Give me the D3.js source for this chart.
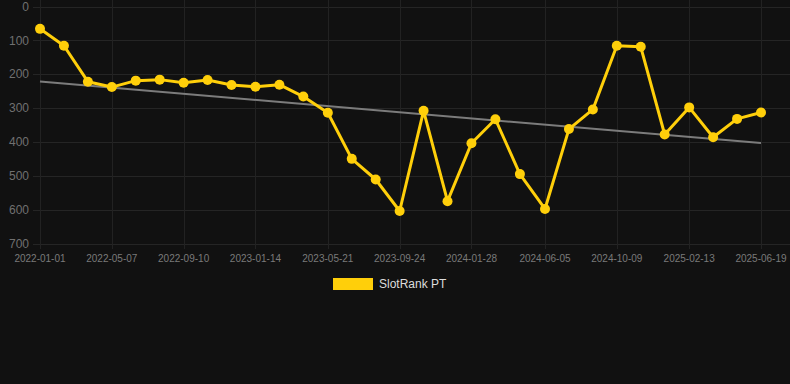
<!DOCTYPE html>
<html>
<head>
<meta charset="utf-8">
<script src="https://cdn.jsdelivr.net/npm/d3@7"></script>
<style>
  html, body { margin: 0; padding: 0; background: #111111; }
  svg { display: block; font-family: "Liberation Sans", Arial, sans-serif; }
</style>
</head>
<body>
<div id="chart"></div>
<script>
// dates of each sample
const dates = [
  "2022-01-01", "2022-02-12", "2022-03-26", "2022-05-07", "2022-06-18", "2022-07-30",
  "2022-09-10", "2022-10-22", "2022-12-03", "2023-01-14", "2023-02-25", "2023-04-08",
  "2023-05-21", "2023-07-02", "2023-08-13", "2023-09-24", "2023-11-05", "2023-12-17",
  "2024-01-28", "2024-03-10", "2024-04-22", "2024-06-05", "2024-07-17", "2024-08-28",
  "2024-10-09", "2024-11-20", "2025-01-01", "2025-02-13", "2025-03-27", "2025-05-08",
  "2025-06-19"
];
// rank values (lower = better)
const ranks = [
  66, 116, 222, 238, 219, 216, 225, 217, 232, 237, 231, 266,
  314, 450, 511, 604, 308, 575, 404, 333, 495, 598, 362, 304,
  116, 119, 378, 298, 386, 332, 313
];
const xTickLabels = [
  "2022-01-01", "2022-05-07", "2022-09-10", "2023-01-14", "2023-05-21", "2023-09-24",
  "2024-01-28", "2024-06-05", "2024-10-09", "2025-02-13", "2025-06-19"
];
const yTicks = [0, 100, 200, 300, 400, 500, 600, 700];
const seriesName = "SlotRank PT";

const W = 790, H = 384;
const parse = d3.timeParse("%Y-%m-%d");
const data = dates.map((d, i) => ({ date: parse(d), value: ranks[i] }));

const svg = d3.select("#chart").append("svg")
    .attr("width", W)
    .attr("height", H);

const x = d3.scaleTime()
    .domain([parse(xTickLabels[0]), parse(xTickLabels[xTickLabels.length - 1])])
    .range([40, 761]);

const y = d3.scaleLinear()
    .domain([0, 700])
    .range([6.5, 243.5]);

// grid
svg.append("g")
  .selectAll("line")
  .data(yTicks)
  .join("line")
    .attr("x1", 33).attr("x2", W)
    .attr("y1", d => Math.round(y(d)) + 0.5).attr("y2", d => Math.round(y(d)) + 0.5)
    .attr("stroke", "#252525").attr("stroke-width", 1);

svg.append("g")
  .selectAll("line")
  .data(xTickLabels.map(parse))
  .join("line")
    .attr("x1", d => Math.round(x(d)) + 0.5).attr("x2", d => Math.round(x(d)) + 0.5)
    .attr("y1", 0).attr("y2", 249)
    .attr("stroke", "#222222").attr("stroke-width", 1);

// y labels
svg.append("g")
  .selectAll("text")
  .data(yTicks)
  .join("text")
    .attr("x", 29)
    .attr("y", d => y(d))
    .attr("dy", "0.35em")
    .attr("text-anchor", "end")
    .attr("fill", "#707070")
    .attr("font-size", 12)
    .text(d => d);

// x labels
svg.append("g")
  .selectAll("text")
  .data(xTickLabels)
  .join("text")
    .attr("x", d => x(parse(d)))
    .attr("y", 262)
    .attr("text-anchor", "middle")
    .attr("fill", "#7a7a7a")
    .attr("font-size", 10)
    .text(d => d);

// linear trend (least squares over time)
const xs = data.map(d => +d.date), ys = data.map(d => d.value);
const mx = d3.mean(xs), my = d3.mean(ys);
const slope = d3.sum(xs, (v, i) => (v - mx) * (ys[i] - my)) / d3.sum(xs, v => (v - mx) * (v - mx));
const trend = [data[0].date, data[data.length - 1].date].map(d => ({ date: d, value: my + slope * (+d - mx) }));

svg.append("path")
    .datum(trend)
    .attr("fill", "none")
    .attr("stroke", "#7c7c7c")
    .attr("stroke-width", 2)
    .attr("d", d3.line().x(d => x(d.date)).y(d => y(d.value)));

// series
const line = d3.line().x(d => x(d.date)).y(d => y(d.value));
svg.append("path")
    .datum(data)
    .attr("fill", "none")
    .attr("stroke", "#ffcf0a")
    .attr("stroke-width", 3)
    .attr("stroke-linejoin", "round")
    .attr("d", line);

svg.append("g")
  .selectAll("circle")
  .data(data)
  .join("circle")
    .attr("cx", d => x(d.date))
    .attr("cy", d => y(d.value))
    .attr("r", 5)
    .attr("fill", "#ffcf0a");

// legend
const lg = svg.append("g");
lg.append("rect")
    .attr("x", 333).attr("y", 278)
    .attr("width", 40).attr("height", 12)
    .attr("fill", "#ffcf0a");
lg.append("text")
    .attr("x", 379).attr("y", 284)
    .attr("dy", "0.35em")
    .attr("fill", "#dddddd")
    .attr("font-size", 12)
    .text(seriesName);
</script>
</body>
</html>
